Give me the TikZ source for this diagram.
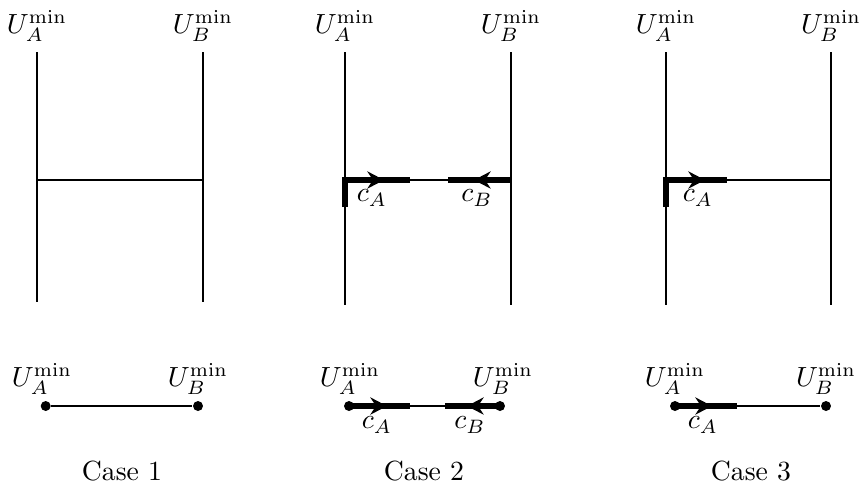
\documentclass[tikz,border=0pt]{standalone}
\usetikzlibrary{arrows.meta}
\begin{document}
\begin{tikzpicture}[x=0.361pt,y=-0.361pt,
  thinln/.style={line width=0.8pt},
  thickseg/.style={line width=2pt},
  arr/.style={line width=2pt,-{Stealth[length=6pt,width=6.2pt,inset=2pt]}},
  dot/.style={circle,fill,inner sep=0pt,minimum size=3.6pt},
  lbl/.style={inner sep=0pt}]
\useasboundingbox (0,0) rectangle (868,490);

% ---------- Case 1 top ----------
\coordinate (a1t) at (37,52);  \coordinate (a1b) at (37,302);
\coordinate (b1t) at (203,52); \coordinate (b1b) at (203,302);
\coordinate (a1m) at (37,180); \coordinate (b1m) at (203,180);
\draw[thinln] (a1t) -- (a1b);
\draw[thinln] (b1t) -- (b1b);
\draw[thinln] (a1m) -- (b1m);
\node[lbl] (ua1) at (37,26) {$U_A^{\min}$};
\node[lbl] (ub1) at (203,26) {$U_B^{\min}$};

% ---------- Case 2 top ----------
\coordinate (a2t) at (345,52);  \coordinate (a2b) at (345,305);
\coordinate (b2t) at (511,52);  \coordinate (b2b) at (511,305);
\coordinate (a2m) at (345,180); \coordinate (b2m) at (511,180);
\coordinate (a2d) at (345,207);
\coordinate (a2e) at (410,180); \coordinate (a2k) at (384,180);
\coordinate (b2e) at (448,180); \coordinate (b2k) at (474,180);
\draw[thinln] (a2t) -- (a2b);
\draw[thinln] (b2t) -- (b2b);
\draw[thinln] (a2m) -- (b2m);
\draw[thickseg] (a2d) -- (a2m) -- (a2e);
\draw[arr] (a2m) -- (a2k);
\draw[thickseg] (b2m) -- (b2e);
\draw[arr] (b2m) -- (b2k);
\node[lbl] (ua2) at (345,26) {$U_A^{\min}$};
\node[lbl] (ub2) at (511,26) {$U_B^{\min}$};
\node[lbl] (ca2) at (372,198) {$c_A$};
\node[lbl] (cb2) at (477,198) {$c_B$};

% ---------- Case 3 top ----------
\coordinate (a3t) at (666,52);  \coordinate (a3b) at (666,305);
\coordinate (b3t) at (831,52);  \coordinate (b3b) at (831,305);
\coordinate (a3m) at (666,180); \coordinate (b3m) at (831,180);
\coordinate (a3d) at (666,207);
\coordinate (a3e) at (727,180); \coordinate (a3k) at (705,180);
\draw[thinln] (a3t) -- (a3b);
\draw[thinln] (b3t) -- (b3b);
\draw[thinln] (a3m) -- (b3m);
\draw[thickseg] (a3d) -- (a3m) -- (a3e);
\draw[arr] (a3m) -- (a3k);
\node[lbl] (ua3) at (666,26) {$U_A^{\min}$};
\node[lbl] (ub3) at (831,26) {$U_B^{\min}$};
\node[lbl] (ca3) at (698,198) {$c_A$};

% ---------- Case 1 bottom ----------
\node[dot] (p1a) at (45.7,406) {};
\node[dot] (p1b) at (198,406) {};
\draw[thinln] (p1a) -- (p1b);
\node[lbl] (lua1) at (42,379) {$U_A^{\min}$};
\node[lbl] (lub1) at (198,379) {$U_B^{\min}$};

% ---------- Case 2 bottom ----------
\node[dot] (p2a) at (349,406) {};
\node[dot] (p2b) at (500,406) {};
\coordinate (q2a) at (410,406); \coordinate (k2a) at (387,406);
\coordinate (q2b) at (445,406); \coordinate (k2b) at (467,406);
\draw[thinln] (p2a) -- (p2b);
\draw[thickseg] (p2a.center) -- (q2a);
\draw[arr] (p2a.center) -- (k2a);
\draw[thickseg] (p2b.center) -- (q2b);
\draw[arr] (p2b.center) -- (k2b);
\node[lbl] (lua2) at (350,379) {$U_A^{\min}$};
\node[lbl] (lub2) at (503,379) {$U_B^{\min}$};
\node[lbl] (lca2) at (377,425) {$c_A$};
\node[lbl] (lcb2) at (470,425) {$c_B$};

% ---------- Case 3 bottom ----------
\node[dot] (p3a) at (675,406) {};
\node[dot] (p3b) at (826,406) {};
\coordinate (q3a) at (737,406); \coordinate (k3a) at (712,406);
\draw[thinln] (p3a) -- (p3b);
\draw[thickseg] (p3a.center) -- (q3a);
\draw[arr] (p3a.center) -- (k3a);
\node[lbl] (lua3) at (675,379) {$U_A^{\min}$};
\node[lbl] (lub3) at (826,379) {$U_B^{\min}$};
\node[lbl] (lca3) at (703,425) {$c_A$};

% ---------- captions ----------
\node[lbl] (cap1) at (122,471) {Case 1};
\node[lbl] (cap2) at (424,471) {Case 2};
\node[lbl] (cap3) at (751,471) {Case 3};
\end{tikzpicture}
\end{document}
